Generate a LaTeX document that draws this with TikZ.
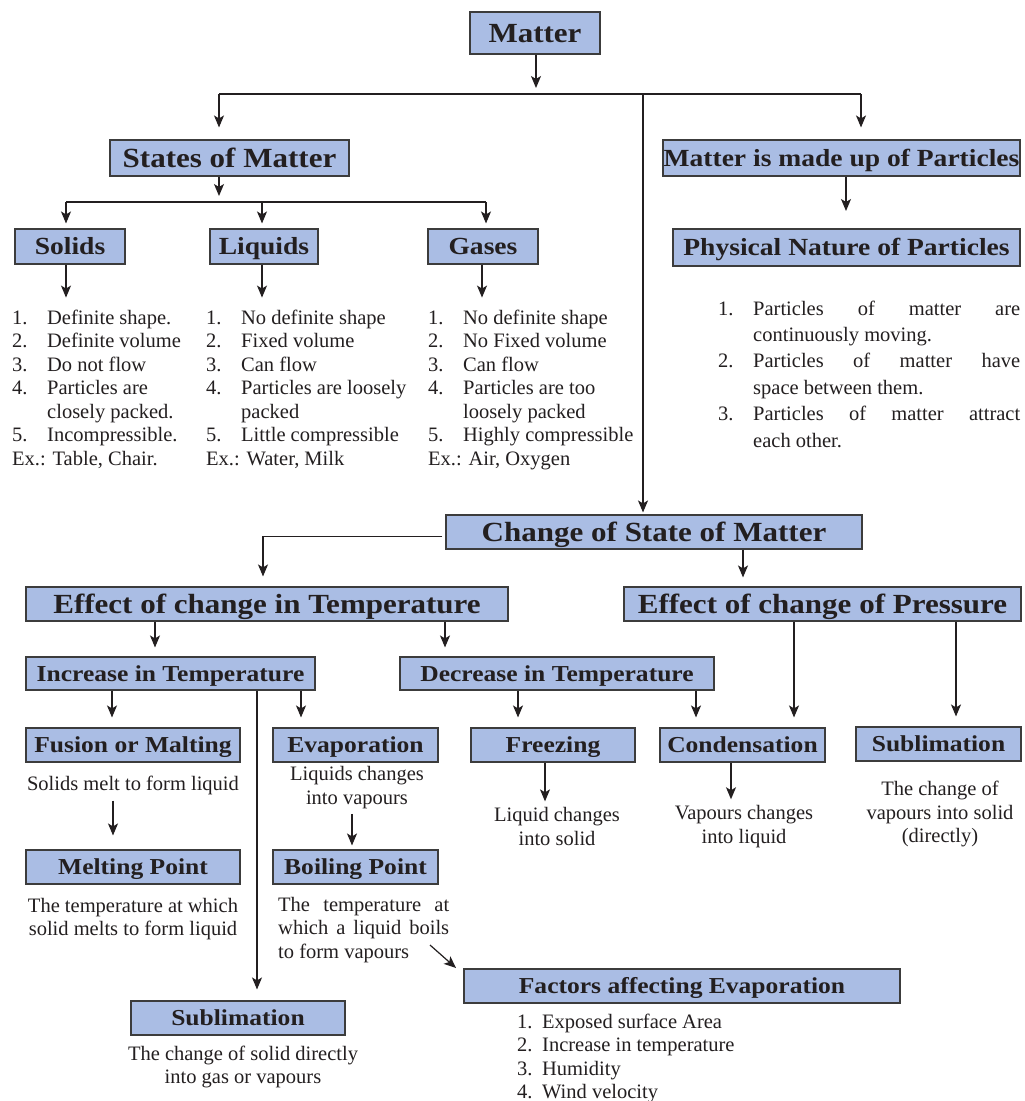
\documentclass[tikz,border=0pt]{standalone}
\usepackage{fontspec}
\setmainfont{Liberation Serif}
\newfontfamily\titlefont[FakeStretch=1.12]{Liberation Serif}
\usetikzlibrary{arrows.meta,calc}
\definecolor{boxfill}{RGB}{170,189,228}
\definecolor{boxline}{RGB}{60,60,60}
\definecolor{ink}{RGB}{35,31,32}
\begin{document}
\begin{tikzpicture}[x=1pt,y=-1pt,
  tbox/.style={draw=boxline, line width=1.1pt, fill=boxfill, text=ink, inner sep=0pt, minimum height=34pt},
  tbig/.style={tbox, text height=22pt, text depth=3.7pt, font=\titlefont\bfseries\fontsize{27.7}{30}\selectfont},
  tmid/.style={tbox, text height=19.6pt, text depth=3.3pt, font=\titlefont\bfseries\fontsize{24.6}{27}\selectfont},
  tsml/.style={tbox, text height=18.2pt, text depth=3.1pt, font=\titlefont\bfseries\fontsize{22.8}{25}\selectfont},
  body/.style={inner sep=0pt, text=ink, font=\fontsize{20.5}{23.5}\selectfont},
  arr/.style={draw=ink, line width=1.2pt, -{Stealth[length=12pt,width=10pt,inset=3pt]}},
  ln/.style={draw=ink, line width=1.2pt}]
\fill[white] (0,0) rectangle (1025,1101);
\useasboundingbox (0,0) rectangle (1025,1101);

% title boxes
\node[tbig, minimum width=130pt, minimum height=42pt] (matter) at (535,33) {Matter};
\node[tbig, minimum width=239pt, minimum height=36pt] (states) at (229.5,158) {States of Matter};
\node[tmid, minimum width=357pt, minimum height=36pt] (made) at (841.5,158) {Matter is made up of Particles};
\node[tmid, minimum width=110pt, minimum height=35pt] (solids) at (70,246.5) {Solids};
\node[tmid, minimum width=108pt, minimum height=35pt] (liquids) at (264,246.5) {Liquids};
\node[tmid, minimum width=110pt, minimum height=35pt] (gases) at (483,246.5) {Gases};
\node[tmid, minimum width=347pt, minimum height=37pt] (phys) at (846.5,247.5) {Physical Nature of Particles};
\node[tbig, minimum width=416pt] (change) at (654,532) {Change of State of Matter};
\node[tbig, minimum width=482pt] (efftemp) at (267,604) {Effect of change in Temperature};
\node[tbig, minimum width=397pt] (effpress) at (822.5,604) {Effect of change of Pressure};
\node[tsml, minimum width=289pt, minimum height=33pt] (incr) at (170.5,673.5) {Increase in Temperature};
\node[tsml, minimum width=314pt, minimum height=33pt] (decr) at (557,673.5) {Decrease in Temperature};
\node[tsml, minimum width=214pt] (fusion) at (133,745) {Fusion or Malting};
\node[tsml, minimum width=165pt] (evap) at (355.5,745) {Evaporation};
\node[tsml, minimum width=164pt] (freez) at (553,745) {Freezing};
\node[tsml, minimum width=165pt] (cond) at (742.5,745) {Condensation};
\node[tsml, minimum width=165pt] (sublr) at (938.5,744) {Sublimation};
\node[tsml, minimum width=214pt] (melt) at (133,867) {Melting Point};
\node[tsml, minimum width=165pt] (boil) at (355.5,867) {Boiling Point};
\node[tsml, minimum width=436pt] (factors) at (682,986) {Factors affecting Evaporation};
\node[tsml, minimum width=214pt] (sublb) at (238,1018) {Sublimation};

% lists
\node[body, anchor=base west] (solidsl) at (12,324) {\begin{tabular}[t]{@{}p{35pt}@{}l@{}}
1.&Definite shape.\\2.&Definite volume\\3.&Do not flow\\4.&Particles are\\&closely packed.\\5.&Incompressible.\\
\multicolumn{2}{@{}l@{}}{Ex.: Table, Chair.}\end{tabular}};
\node[body, anchor=base west] (liquidsl) at (206,324) {\begin{tabular}[t]{@{}p{35pt}@{}l@{}}
1.&No definite shape\\2.&Fixed volume\\3.&Can flow\\4.&Particles are loosely\\&packed\\5.&Little compressible\\
\multicolumn{2}{@{}l@{}}{Ex.: Water, Milk}\end{tabular}};
\node[body, anchor=base west] (gasesl) at (428,324) {\begin{tabular}[t]{@{}p{35pt}@{}l@{}}
1.&No definite shape\\2.&No Fixed volume\\3.&Can flow\\4.&Particles are too\\&loosely packed\\5.&Highly compressible\\
\multicolumn{2}{@{}l@{}}{Ex.: Air, Oxygen}\end{tabular}};
\node[body, anchor=base west, font=\fontsize{20.5}{26.4}\selectfont] (physl) at (718,315) {\begin{tabular}[t]{@{}p{35pt}@{}l@{}}
1.&\makebox[267pt][s]{Particles of matter are}\\&continuously moving.\\
2.&\makebox[267pt][s]{Particles of matter have}\\&space between them.\\
3.&\makebox[267pt][s]{Particles of matter attract}\\&each other.\end{tabular}};
\node[body, anchor=base west] (factl) at (517,1028) {\begin{tabular}[t]{@{}p{25pt}@{}l@{}}
1.&Exposed surface Area\\2.&Increase in temperature\\3.&Humidity\\4.&Wind velocity\end{tabular}};

% descriptions
\node[body] (fusiont) at (133,785) {Solids melt to form liquid};
\node[body, align=center] (meltt) at (133,919) {The temperature at which\\solid melts to form liquid};
\node[body, align=center] (evapt) at (357,787.5) {Liquids changes\\into vapours};
\node[body, align=left, anchor=north west] (boilt) at (278,897) {\makebox[171pt][s]{The temperature at}\\\makebox[171pt][s]{which a liquid boils}\\to form vapours};
\node[body, align=center] (freezt) at (557,826.5) {Liquid changes\\into solid};
\node[body, align=center] (condt) at (744,826.5) {Vapours changes\\into liquid};
\node[body, align=center] (sublrt) at (940,814) {The change of\\vapours into solid\\(directly)};
\node[body, align=center] (sublbt) at (243,1067) {The change of solid directly\\into gas or vapours};

% connectors
\coordinate (bL) at (219,94);
\coordinate (bR) at (861,94);
\coordinate (bM) at (643,94);
\draw[arr, shorten >=6pt] ([xshift=1pt]matter.south) -- ([xshift=1pt]matter.south |- bM);
\draw[ln] (bL) -- (bR);
\draw[arr, shorten >=12pt] (bL) -- (bL |- states.north);
\draw[arr, shorten >=12pt] (bR) -- (bR |- made.north);
\draw[arr, shorten >=2pt] (bM) -- (bM |- change.north);

\coordinate (sL) at (66,202);
\coordinate (sM) at (262,202);
\coordinate (sR) at (486,202);
\draw[arr, shorten >=6pt] (bL |- states.south) -- (bL |- sL);
\draw[ln] (sL) -- (sR);
\draw[arr, shorten >=5pt] (sL) -- (sL |- solids.north);
\draw[arr, shorten >=5pt] (sM) -- (sM |- liquids.north);
\draw[arr, shorten >=5pt] (sR) -- (sR |- gases.north);

\draw[arr] ([xshift=-4pt]solids.south) -- ++(0,33);
\draw[arr] ([xshift=-2pt]liquids.south) -- ++(0,33);
\draw[arr] ([xshift=-1pt]gases.south) -- ++(0,33);
\draw[arr] ([xshift=4.5pt]made.south) -- ([xshift=4.5pt]made.south |- 0,211);

\coordinate (cL) at (263,536.5);
\draw[arr, shorten >=10pt] ([xshift=-3pt]change.west |- cL) -- (cL) -- (cL |- efftemp.north);
\draw[arr, shorten >=9pt] ([xshift=89pt]change.south) -- ([xshift=89pt]change.south |- effpress.north);

\draw[arr, shorten >=9pt] ([xshift=-112pt]efftemp.south) -- ([xshift=-112pt]efftemp.south |- incr.north);
\draw[arr, shorten >=9pt] ([xshift=178pt]efftemp.south) -- ([xshift=178pt]efftemp.south |- decr.north);

\draw[arr, shorten >=10pt] ([xshift=-58.5pt]incr.south) -- ([xshift=-58.5pt]incr.south |- fusion.north);
\draw[arr, shorten >=10pt] ([xshift=130.5pt]incr.south) -- ([xshift=130.5pt]incr.south |- evap.north);
\draw[arr, shorten >=11pt] ([xshift=86.5pt]incr.south) -- ([xshift=86.5pt]incr.south |- sublb.north);
\draw[arr, shorten >=10pt] ([xshift=-39pt]decr.south) -- ([xshift=-39pt]decr.south |- freez.north);
\draw[arr, shorten >=10pt] ([xshift=139pt]decr.south) -- ([xshift=139pt]decr.south |- cond.north);
\draw[arr, shorten >=10pt] ([xshift=-28.5pt]effpress.south) -- ([xshift=-28.5pt]effpress.south |- cond.north);
\draw[arr, shorten >=10pt] ([xshift=133.5pt]effpress.south) -- ([xshift=133.5pt]effpress.south |- sublr.north);

\draw[arr, shorten <=6pt, shorten >=14pt] ([xshift=-20pt]fusiont.south) -- ([xshift=-20pt]fusiont.south |- melt.north);
\draw[arr, shorten <=5pt, shorten >=4pt] ([xshift=-5pt]evapt.south) -- ([xshift=-5pt]evapt.south |- boil.north);
\draw[arr, shorten >=6pt] ([xshift=-8pt]freez.south) -- ([xshift=-8pt]freez.south |- freezt.north);
\draw[arr, shorten >=6pt] ([xshift=-11.5pt]cond.south) -- ([xshift=-11.5pt]cond.south |- condt.north);

\coordinate (dg1) at (430,945);
\coordinate (dg2) at (456,968);
\draw[arr] (dg1) -- (dg2);
\end{tikzpicture}
\end{document}
